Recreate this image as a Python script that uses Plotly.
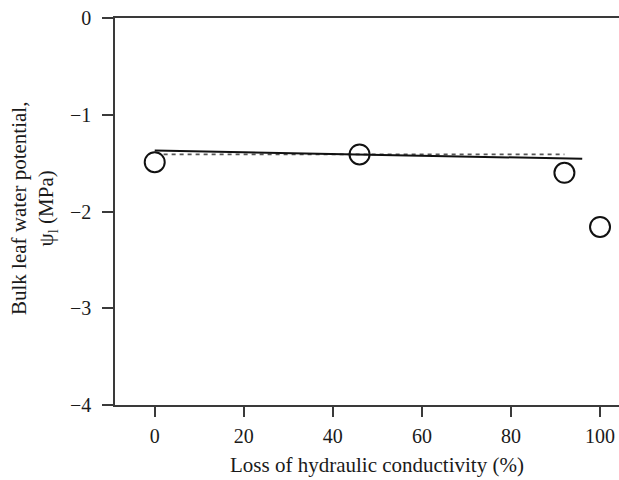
import plotly.graph_objects as go

# Data
loss_pct = [0, 46, 92, 100]
psi_leaf = [-1.49, -1.41, -1.60, -2.16]

fit_solid_x = [0, 96]
fit_solid_y = [-1.37, -1.455]

fit_dash_x = [2, 92]
fit_dash_y = [-1.41, -1.41]

x_ticks = [0, 20, 40, 60, 80, 100]
y_ticks = [0, -1, -2, -3, -4]

FONT = "Liberation Serif, Times New Roman, serif"
AX = "#3a3a3a"
TXT = "#1a1a1a"

fig = go.Figure()
fig.add_trace(go.Scatter(x=fit_dash_x, y=fit_dash_y, mode="lines",
                         line=dict(color="#555555", width=1.6, dash="4px,4px"),
                         showlegend=False))
fig.add_trace(go.Scatter(x=fit_solid_x, y=fit_solid_y, mode="lines",
                         line=dict(color="#111111", width=2),
                         showlegend=False))
fig.add_trace(go.Scatter(x=loss_pct, y=psi_leaf, mode="markers",
                         marker=dict(symbol="circle-open", size=20,
                                     color="#111111", line=dict(width=2, color="#111111")),
                         showlegend=False))

fig.update_layout(
    width=619, height=480,
    margin=dict(l=115, r=0, t=18, b=75),
    paper_bgcolor="white", plot_bgcolor="white",
    font=dict(family=FONT, size=20, color=TXT),
    showlegend=False,
    xaxis=dict(range=[-8.92, 104.26], tickvals=x_ticks, ticks="outside", ticklen=10,
               tickwidth=1.5, tickcolor=AX, showline=True, linecolor=AX, linewidth=1.5,
               mirror=True, showgrid=False, zeroline=False, ticklabelstandoff=2,
               tickfont=dict(family=FONT, size=20, color=TXT)),
    yaxis=dict(range=[-4, 0], tickvals=y_ticks, ticks="outside", ticklen=11,
               tickwidth=1.5, tickcolor=AX, showline=True, linecolor=AX, linewidth=1.5,
               showgrid=False, zeroline=False, ticklabelstandoff=7,
               tickfont=dict(family=FONT, size=20, color=TXT)),
    annotations=[
        dict(text="Loss of hydraulic conductivity (%)", xref="paper", yref="paper",
             x=(377 - 115) / 504, y=0, yshift=-60, xanchor="center", yanchor="middle",
             showarrow=False, font=dict(family=FONT, size=21, color=TXT)),
        dict(text="Bulk leaf water potential,<br>ψ<sub>l</sub> (MPa)", xref="paper", yref="paper",
             x=0, xshift=-81, y=(405 - 209) / 387, yanchor="middle", xanchor="center",
             textangle=-90, showarrow=False,
             font=dict(family=FONT, size=21, color=TXT)),
    ],
)

fig.write_html("out.html")
